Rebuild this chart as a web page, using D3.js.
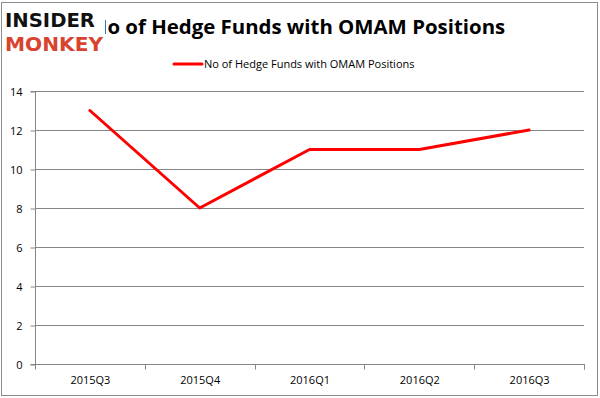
<!DOCTYPE html>
<html>
<head>
<meta charset="utf-8">
<script src="https://cdn.jsdelivr.net/npm/d3@7"></script>
<style>
  body { margin: 0; background: #fff; }
  svg { display: block; }
</style>
</head>
<body>
<div id="chart"></div>
<script>
// Chart data
const quarters = ["2015Q3", "2015Q4", "2016Q1", "2016Q2", "2016Q3"];
const funds = [13, 8, 11, 11, 12];
const yTicks = [0, 2, 4, 6, 8, 10, 12, 14];
const seriesName = "No of Hedge Funds with OMAM Positions";

const width = 600;
const height = 398;
const plot = { left: 35, right: 584, top: 91, bottom: 364 };

const svg = d3
  .select("#chart")
  .append("svg")
  .attr("width", width)
  .attr("height", height);

// Outer frame
svg
  .append("rect")
  .attr("x", 1.5)
  .attr("y", 2.5)
  .attr("width", 596)
  .attr("height", 393)
  .attr("fill", "#fff")
  .attr("stroke", "#8c8c8c")
  .attr("stroke-width", 1);

// Scales
const xScale = d3
  .scaleBand()
  .domain(quarters)
  .range([plot.left, plot.right]);

const yScale = d3
  .scaleLinear()
  .domain([0, 14])
  .range([plot.bottom, plot.top]);

// Gridlines
svg
  .append("g")
  .selectAll("line")
  .data(yTicks)
  .enter()
  .append("line")
  .attr("x1", plot.left)
  .attr("x2", plot.right)
  .attr("y1", (d) => Math.round(yScale(d)) + 0.5)
  .attr("y2", (d) => Math.round(yScale(d)) + 0.5)
  .attr("stroke", "#868686");

// Y axis
const yAxis = d3.axisLeft(yScale).tickValues(yTicks).tickSize(5).tickPadding(8);
const yG = svg
  .append("g")
  .attr("transform", `translate(${plot.left + 0.5}, 0.5)`)
  .call(yAxis);

// X axis
const xAxis = d3.axisBottom(xScale).tickSize(5).tickPadding(7);
const xG = svg
  .append("g")
  .attr("transform", `translate(0.5, ${plot.bottom + 0.5})`)
  .call(xAxis);

// Put x ticks on band boundaries, Excel style
xG.selectAll(".tick line").remove();
xG.selectAll(".boundary")
  .data(quarters)
  .enter()
  .append("line")
  .attr("x1", (d) => Math.round(xScale(d) + xScale.bandwidth()))
  .attr("x2", (d) => Math.round(xScale(d) + xScale.bandwidth()))
  .attr("y1", 0)
  .attr("y2", 5)
  .attr("stroke", "#868686");

[yG, xG].forEach((g) => {
  g.select(".domain").attr("stroke", "#868686");
  g.selectAll(".tick line").attr("stroke", "#868686");
  g.selectAll("text")
    .attr("fill", "#000")
    .style("font-family", "'Open Sans', sans-serif")
    .style("font-size", "11px");
});
xG.select(".domain").attr("d", `M${plot.left},5V0H${plot.right}V5`);
yG.select(".domain").attr("d", `M-5,${plot.top}H0V${plot.bottom}H-5`);

// Line
const line = d3
  .line()
  .x((d, i) => xScale(quarters[i]) + xScale.bandwidth() / 2)
  .y((d) => yScale(d));

svg
  .append("path")
  .datum(funds)
  .attr("d", line)
  .attr("fill", "none")
  .attr("stroke", "#ff0000")
  .attr("stroke-width", 3)
  .attr("stroke-linecap", "round")
  .attr("stroke-linejoin", "round");

// Title (its first letter sits under the logo, as in the original)
svg
  .append("text")
  .attr("x", 298)
  .attr("y", 34)
  .attr("text-anchor", "middle")
  .style("font-family", "'Open Sans', sans-serif")
  .style("font-weight", "bold")
  .style("font-size", "20.4px")
  .text(seriesName);

// Legend
svg
  .append("line")
  .attr("x1", 174)
  .attr("x2", 202)
  .attr("y1", 64)
  .attr("y2", 64)
  .attr("stroke", "#ff0000")
  .attr("stroke-width", 3)
  .attr("stroke-linecap", "round");

svg
  .append("text")
  .attr("x", 204)
  .attr("y", 68)
  .style("font-family", "'Open Sans', sans-serif")
  .style("font-size", "11px")
  .text(seriesName);

// Logo
const logo = svg.append("g");
logo
  .append("rect")
  .attr("x", 3)
  .attr("y", 5)
  .attr("width", 102)
  .attr("height", 50)
  .attr("fill", "#fff");
logo
  .append("text")
  .attr("x", 5)
  .attr("y", 27)
  .attr("textLength", 90)
  .attr("lengthAdjust", "spacingAndGlyphs")
  .style("font-family", "'DejaVu Sans', sans-serif")
  .style("font-weight", "bold")
  .style("font-size", "20px")
  .attr("fill", "#111")
  .text("INSIDER");
logo
  .append("text")
  .attr("x", 5)
  .attr("y", 51)
  .attr("textLength", 98)
  .attr("lengthAdjust", "spacingAndGlyphs")
  .style("font-family", "'DejaVu Sans', sans-serif")
  .style("font-weight", "bold")
  .style("font-size", "20px")
  .attr("fill", "#d8432f")
  .text("MONKEY");
</script>
</body>
</html>
